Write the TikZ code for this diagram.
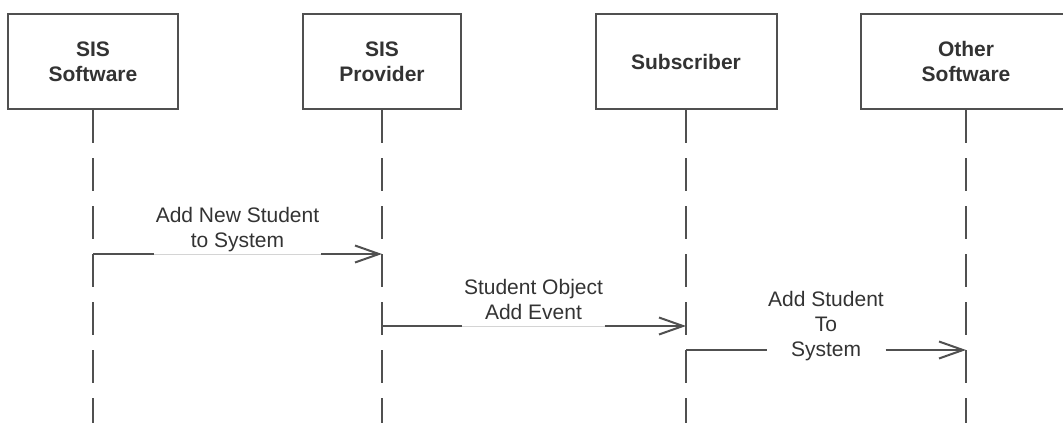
\documentclass[tikz,border=0pt]{standalone}
\usepackage{fontspec}
\setmainfont{Liberation Sans}
\usetikzlibrary{arrows.meta}
\definecolor{edge}{HTML}{505050}
\definecolor{ink}{HTML}{333333}
\definecolor{faint}{HTML}{D4D4D4}
\begin{document}
\begin{tikzpicture}[x=1pt,y=-1pt,
  actor/.style={draw=edge, line width=2pt, fill=white, minimum height=95pt,
    inner sep=0pt, text=ink, align=center,
    font=\bfseries\fontsize{21pt}{25pt}\selectfont},
  lifeline/.style={draw=edge, line width=2pt, dash pattern=on 33pt off 15pt},
  msg/.style={draw=edge, line width=2pt},
  msgtip/.style={msg, -{Straight Barb[length=24pt,width=17pt]}},
  under/.style={draw=faint, line width=1pt},
  msglabel/.style={text=ink, align=center, anchor=south, inner xsep=1.5pt,
    inner ysep=0pt, text depth=0pt, font=\fontsize{21pt}{25pt}\selectfont}]
\useasboundingbox (0,0) rectangle (1063,423);
\clip (0,0) rectangle (1063,423);

% participants
\node[actor, minimum width=170pt] (sis)   at (93,61.5)  {SIS\\Software};
\node[actor, minimum width=158pt] (prov)  at (382,61.5) {SIS\\Provider};
\node[actor, minimum width=181pt] (sub)   at (686,61.5) {Subscriber};
\node[actor, minimum width=210pt] (other) at (966,61.5) {Other\\Software};

% lifelines
\coordinate (sisEnd)   at (93,423);
\coordinate (provEnd)  at (382,423);
\coordinate (subEnd)   at (686,423);
\coordinate (otherEnd) at (966,423);
\draw[lifeline] (sis.south)   -- (sisEnd);
\draw[lifeline] (prov.south)  -- (provEnd);
\draw[lifeline] (sub.south)   -- (subEnd);
\draw[lifeline] (other.south) -- (otherEnd);

% message 1
\coordinate (m1a) at (93,254);
\coordinate (m1b) at (382,254);
\node[msglabel] (t1) at (237.5,248) {Add New Student\\to System};
\draw[msg] (m1a) -- (t1.west |- m1a);
\draw[under] (t1.west |- m1a) -- (t1.east |- m1a);
\draw[msgtip] (t1.east |- m1a) -- (m1b);

% message 2
\coordinate (m2a) at (382,326);
\coordinate (m2b) at (686,326);
\node[msglabel] (t2) at (533.5,320) {Student Object\\Add Event};
\draw[msg] (m2a) -- (t2.west |- m2a);
\draw[under] (t2.west |- m2a) -- (t2.east |- m2a);
\draw[msgtip] (t2.east |- m2a) -- (m2b);

% message 3
\coordinate (m3a) at (686,350);
\coordinate (m3b) at (966,350);
\node[msglabel] (t3) at (826,357) {Add Student\\To\\System};
\draw[msg] (m3a) -- (t3.west |- m3a);
\draw[msgtip] (t3.east |- m3a) -- (m3b);
\end{tikzpicture}
\end{document}
